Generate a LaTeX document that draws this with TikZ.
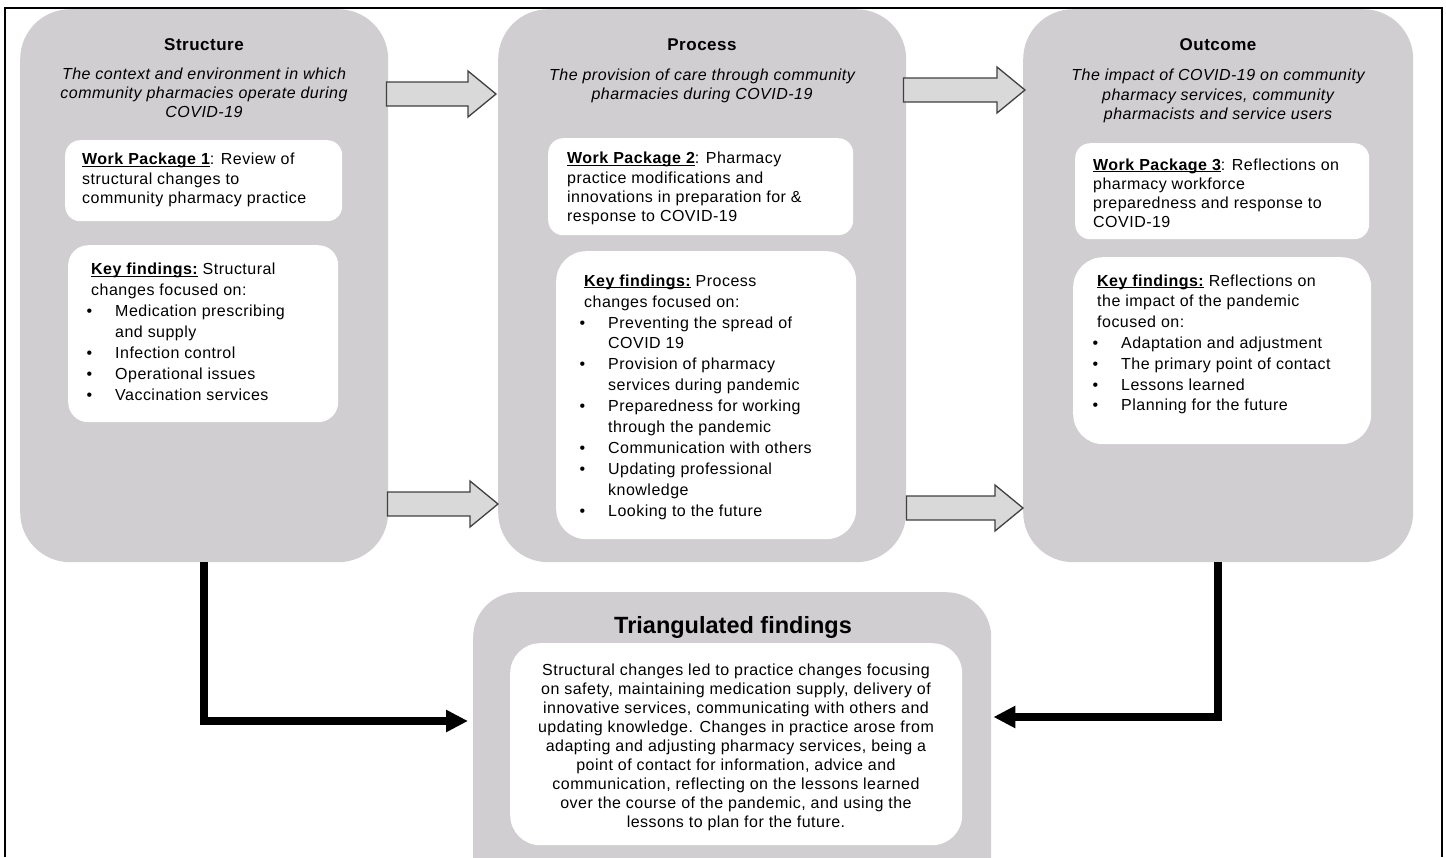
\documentclass[tikz,border=0pt]{standalone}
\usepackage{fontspec}
\setmainfont{Liberation Sans}[LetterSpace=3]
\usetikzlibrary{calc,arrows.meta}

\definecolor{panelgray}{RGB}{208,206,208}
\definecolor{arrowfill}{RGB}{217,217,217}
\definecolor{arrowline}{RGB}{64,64,64}

\begin{document}
\begin{tikzpicture}[x=1pt,y=-1pt,
  panel/.style={fill=panelgray,rounded corners=50pt,anchor=north west,inner sep=0pt},
  card/.style={fill=white,rounded corners=15pt,anchor=north west,inner sep=0pt},
  headtxt/.style={font=\fontsize{17}{20}\selectfont\bfseries,anchor=base},
  subtxt/.style={font=\fontsize{16}{19}\selectfont\itshape,align=center,anchor=north,inner sep=0pt},
  bodytxt/.style={font=\fontsize{16}{19.5}\selectfont,align=left,anchor=north west,inner sep=0pt},
  listtxt/.style={font=\fontsize{16}{20.9}\selectfont,align=left,anchor=north west,inner sep=0pt},
  blockarrow/.style={draw=arrowline,fill=arrowfill,line width=1.3pt,line join=miter},
  flow/.style={line width=7.5pt,-{Triangle[length=22pt,width=21pt]}}]

\useasboundingbox (0,0) rectangle (1446,857);

% Bullets and underlined headings
\def\kfitem{\hspace*{-4.5pt}\makebox[28.5pt][l]{\textbullet}}
\def\kfcont{\hspace*{24pt}}
\def\ulbold#1{\setbox0=\hbox{\bfseries #1}\rlap{\rule[-2.2pt]{\wd0}{1.2pt}}\box0\relax}

% Block arrow between two points at the same height
\def\blockarrow#1#2{%
  \draw[blockarrow] let \p1=(#1), \p2=(#2) in
    (\x1,\y1+12pt) -- (\x2-28pt,\y1+12pt) -- (\x2-28pt,\y1+23pt) -- (\x2,\y1)
    -- (\x2-28pt,\y1-23pt) -- (\x2-28pt,\y1-12pt) -- (\x1,\y1-12pt) -- cycle;}

% ---- Three panels ----
\node[panel,minimum width=368pt,minimum height=553pt] (structure) at (20,9) {};
\node[panel,minimum width=408pt,minimum height=553pt] (process) at (498,9) {};
\node[panel,minimum width=390pt,minimum height=553pt] (outcome) at (1023,9) {};

% Structure
\node[headtxt] (structure-title) at (204,50) {Structure};
\node[subtxt] (structure-sub) at (204,66.2) {\strut The context and environment in which\\
  community pharmacies operate during\\ COVID-19};
\node[card,minimum width=277pt,minimum height=81pt] (wp1) at (65,140) {};
\node[bodytxt] (wp1-text) at (82,151) {\strut\ulbold{Work Package 1}: Review of\\
  structural changes to\\ community pharmacy practice};
\node[card,rounded corners=20pt,minimum width=270pt,minimum height=177pt] (kf1) at (68,245) {};
\node[listtxt] (kf1-text) at (91,260) {\strut\ulbold{Key findings:} Structural\\
  changes focused on:\\
  \kfitem Medication prescribing\\
  \kfcont and supply\\
  \kfitem Infection control\\
  \kfitem Operational issues\\
  \kfitem Vaccination services};

% Process
\node[headtxt] (process-title) at (702,50) {Process};
\node[subtxt] (process-sub) at (702,67) {\strut The provision of care through community\\
  pharmacies during COVID-19};
\node[card,minimum width=305pt,minimum height=97pt] (wp2) at (548,138) {};
\node[bodytxt,font=\fontsize{16}{19.3}\selectfont] (wp2-text) at (567,150) {\strut\ulbold{Work Package 2}: Pharmacy\\
  practice modifications and\\ innovations in preparation for \&\\ response to COVID-19};
\node[card,rounded corners=30pt,minimum width=300pt,minimum height=288pt] (kf2) at (556,251) {};
\node[listtxt] (kf2-text) at (584,271.4) {\strut\ulbold{Key findings:} Process\\
  changes focused on:\\
  \kfitem Preventing the spread of\\
  \kfcont COVID 19\\
  \kfitem Provision of pharmacy\\
  \kfcont services during pandemic\\
  \kfitem Preparedness for working\\
  \kfcont through the pandemic\\
  \kfitem Communication with others\\
  \kfitem Updating professional\\
  \kfcont knowledge\\
  \kfitem Looking to the future};

% Outcome
\node[headtxt] (outcome-title) at (1218,50) {Outcome};
\node[subtxt,font=\fontsize{16}{19.5}\selectfont\itshape] (outcome-sub) at (1218,67) {\strut The impact of COVID-19 on community\\
  pharmacy services, community\\ pharmacists and service users};
\node[card,minimum width=294pt,minimum height=96pt] (wp3) at (1075,143) {};
\node[bodytxt,font=\fontsize{16}{19}\selectfont] (wp3-text) at (1093,156.7) {\strut\ulbold{Work Package 3}: Reflections on\\
  pharmacy workforce\\ preparedness and response to\\ COVID-19};
\node[card,rounded corners=30pt,minimum width=298pt,minimum height=187pt] (kf3) at (1073,257) {};
\node[listtxt,font=\fontsize{16}{20.8}\selectfont] (kf3-text) at (1097,271.4) {\strut\ulbold{Key findings:} Reflections on\\
  the impact of the pandemic\\
  focused on:\\
  \kfitem Adaptation and adjustment\\
  \kfitem The primary point of contact\\
  \kfitem Lessons learned\\
  \kfitem Planning for the future};

% ---- Triangulated findings ----
\node[panel,rounded corners=45pt,minimum width=518pt,minimum height=320pt] (triang) at (473,592) {};
\node[headtxt,font=\fontsize{23.5}{26}\selectfont\bfseries\addfontfeature{LetterSpace=0}] (triang-title) at (733,633) {Triangulated findings};
\node[card,rounded corners=30pt,minimum width=452pt,minimum height=202pt] (summary) at (510,643) {};
\node[subtxt,font=\fontsize{16}{19}\selectfont] (summary-text) at (736,661.7) {\strut Structural changes led to practice changes focusing\\
  on safety, maintaining medication supply, delivery of\\
  innovative services, communicating with others and\\
  updating knowledge. Changes in practice arose from\\
  adapting and adjusting pharmacy services, being a\\
  point of contact for information, advice and\\
  communication, reflecting on the lessons learned\\
  over the course of the pandemic, and using the\\
  lessons to plan for the future.};

% ---- Block arrows between panels ----
\coordinate (sp1) at ($(structure.north east)+(-2,85)$);
\coordinate (sp1-tip) at ($(process.north west)+(-2,85)$);
\coordinate (sp2) at ($(structure.north east)+(-1,495)$);
\coordinate (sp2-tip) at ($(process.north west)+(0,495)$);
\coordinate (po1) at ($(process.north east)+(-3,81)$);
\coordinate (po1-tip) at ($(outcome.north west)+(2,81)$);
\coordinate (po2) at ($(process.north east)+(0,499)$);
\coordinate (po2-tip) at ($(outcome.north west)+(0,499)$);
\blockarrow{sp1}{sp1-tip}
\blockarrow{sp2}{sp2-tip}
\blockarrow{po1}{po1-tip}
\blockarrow{po2}{po2-tip}

% ---- Thick arrows into the triangulated findings ----
\coordinate (tin-l) at ($(triang.north west)+(-5,129)$);
\coordinate (tin-r) at ($(triang.north east)+(2,125)$);
\draw[flow] (structure.south) |- (tin-l);
\draw[flow] (outcome.south) |- (tin-r);

% Frame (open at the bottom)
\draw[line width=2pt] (5,857) -- (5,8) -- (1442,8) -- (1442,857);

\end{tikzpicture}
\end{document}
